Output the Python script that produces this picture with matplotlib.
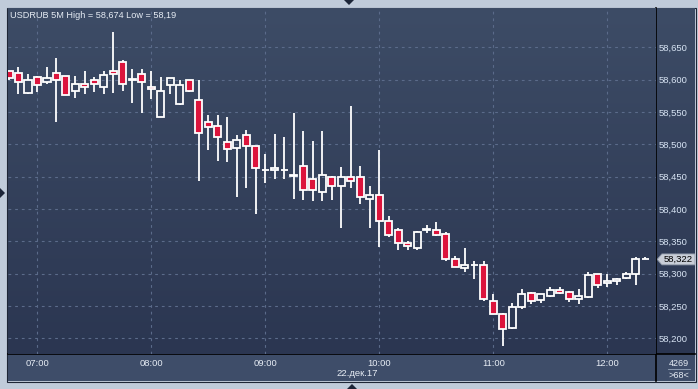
import numpy as np
import pandas as pd
import matplotlib
matplotlib.use("Agg")
import matplotlib.pyplot as plt
from matplotlib.patches import Polygon, Rectangle
from matplotlib.lines import Line2D

# USDRUB 5-minute candles, 22.12.2017, 06:45 .. 12:20
opens = [58.613, 58.610, 58.579, 58.604, 58.596, 58.610, 58.605, 58.582, 58.593, 58.600,
         58.589, 58.613, 58.628, 58.600, 58.608, 58.588, 58.542, 58.591, 58.562, 58.599,
         58.568, 58.534, 58.528, 58.504, 58.494, 58.514, 58.497, 58.460, 58.460, 58.460,
         58.451, 58.466, 58.447, 58.427, 58.450, 58.435, 58.450, 58.449, 58.416, 58.421,
         58.382, 58.367, 58.347, 58.340, 58.367, 58.367, 58.361, 58.322, 58.309, 58.313,
         58.314, 58.258, 58.237, 58.216, 58.248, 58.270, 58.259, 58.265, 58.275, 58.271,
         58.261, 58.264, 58.299, 58.285, 58.288, 58.294, 58.299, 58.322]
highs = [58.614, 58.620, 58.609, 58.606, 58.620, 58.633, 58.606, 58.606, 58.613, 58.604,
         58.613, 58.674, 58.631, 58.616, 58.616, 58.613, 58.604, 58.602, 58.599, 58.600,
         58.599, 58.546, 58.546, 58.543, 58.514, 58.522, 58.498, 58.485, 58.516, 58.511,
         58.548, 58.520, 58.505, 58.520, 58.451, 58.465, 58.559, 58.466, 58.435, 58.491,
         58.389, 58.370, 58.351, 58.366, 58.375, 58.380, 58.365, 58.328, 58.339, 58.319,
         58.319, 58.268, 58.239, 58.254, 58.276, 58.272, 58.269, 58.279, 58.279, 58.273,
         58.276, 58.302, 58.300, 58.299, 58.294, 58.302, 58.325, 58.325]
lows = [58.600, 58.578, 58.578, 58.581, 58.594, 58.534, 58.576, 58.572, 58.578, 58.581,
        58.578, 58.579, 58.583, 58.564, 58.549, 58.570, 58.542, 58.578, 58.561, 58.581,
        58.443, 58.491, 58.474, 58.473, 58.419, 58.433, 58.392, 58.440, 58.447, 58.447,
        58.416, 58.414, 58.413, 58.413, 58.414, 58.371, 58.433, 58.408, 58.371, 58.341,
        58.357, 58.337, 58.337, 58.337, 58.363, 58.358, 58.320, 58.310, 58.303, 58.292,
        58.258, 58.237, 58.188, 58.214, 58.245, 58.253, 58.254, 58.264, 58.269, 58.256,
        58.253, 58.263, 58.278, 58.280, 58.282, 58.292, 58.283, 58.322]
closes = [58.602, 58.596, 58.599, 58.591, 58.602, 58.600, 58.577, 58.594, 58.588, 58.594,
          58.607, 58.608, 58.594, 58.601, 58.596, 58.585, 58.582, 58.602, 58.591, 58.582,
          58.518, 58.526, 58.511, 58.492, 58.506, 58.497, 58.463, 58.461, 58.464, 58.460,
          58.452, 58.430, 58.430, 58.452, 58.436, 58.449, 58.444, 58.418, 58.422, 58.381,
          58.359, 58.348, 58.342, 58.365, 58.369, 58.359, 58.322, 58.311, 58.313, 58.313,
          58.260, 58.238, 58.215, 58.248, 58.268, 58.258, 58.268, 58.275, 58.270, 58.261,
          58.266, 58.298, 58.282, 58.288, 58.292, 58.299, 58.322, 58.322]

times = pd.date_range("2017-12-22 06:45", periods=len(opens), freq="5min")
price_ticks = [58.20, 58.25, 58.30, 58.35, 58.40, 58.45, 58.50, 58.55, 58.60, 58.65]
title = "USDRUB 5M High = 58,674 Low = 58,19"
date_label = "22.дек.17"

W, H = 698, 389
FRAME = "#c0cbda"
BG_TOP, BG_BOT = "#3d4c66", "#2b3651"
TXT = "#e6ecf4"
RED = "#dc143c"
plt.rcParams["font.family"] = ["Liberation Sans", "DejaVu Sans"]


def fbox(x0, y0, x1, y1):
    # pixel box (top-left origin) -> figure fraction rect
    return [x0 / W, 1 - y1 / H, (x1 - x0) / W, (y1 - y0) / H]


def gradient(ax, top, bot):
    c0 = np.array(matplotlib.colors.to_rgb(top))
    c1 = np.array(matplotlib.colors.to_rgb(bot))
    t = np.linspace(0, 1, 256)[:, None]
    img = (c0 * (1 - t) + c1 * t)[:, None, :]
    ax.imshow(img, extent=[0, 1, 0, 1], transform=ax.transAxes,
              aspect="auto", zorder=0, interpolation="bilinear")


fig = plt.figure(figsize=(W / 100, H / 100), dpi=100, facecolor=FRAME)

x = np.arange(len(opens))
o = np.array(opens); c = np.array(closes); hi = np.array(highs); lo = np.array(lows)
ymin, ymax = 58.1757, 58.7108
xmin, xmax = -0.084, 68.13

# right price panel
axr = fig.add_axes(fbox(656, 8, 695, 354))
axr.set_zorder(1)
gradient(axr, BG_TOP, BG_BOT)
axr.set_xlim(0, 1); axr.set_ylim(ymin, ymax)
axr.axis("off")

# bottom time panel
axb = fig.add_axes(fbox(8, 354, 695, 381))
axb.set_zorder(1)
axb.set_facecolor("#3e4d69")
axb.set_xticks([]); axb.set_yticks([])
for s in axb.spines.values():
    s.set_visible(False)

# main chart
ax = fig.add_axes(fbox(8, 8, 656, 354))
ax.set_zorder(2)
gradient(ax, BG_TOP, BG_BOT)
ax.set_xlim(xmin, xmax)
ax.set_ylim(ymin, ymax)
for s in ax.spines.values():
    s.set_visible(False)

hour_idx = [i for i, t in enumerate(times) if t.minute == 0]
for yv in price_ticks:
    ax.axhline(yv, color="#5b6b8a", lw=0.8, ls=(0, (2.5, 3.5)), zorder=1)
for xi in hour_idx:
    ax.axvline(xi, color="#5b6b8a", lw=0.8, ls=(0, (2.5, 3.5)), zorder=1)

body_lo = np.minimum(o, c)
body_hi = np.maximum(o, c)
ax.vlines(x, body_hi, hi, color="white", lw=1.3, zorder=3)
ax.vlines(x, lo, body_lo, color="white", lw=1.3, zorder=3)
bear = c < o
ax.bar(x[bear], (body_hi - body_lo)[bear], bottom=body_lo[bear], width=0.78,
       color=RED, edgecolor="white", linewidth=1.3, zorder=4)
ax.bar(x[~bear], (body_hi - body_lo)[~bear], bottom=body_lo[~bear], width=0.78,
       color="none", edgecolor="white", linewidth=1.3, zorder=4)

ax.set_yticks(price_ticks)
ax.set_yticklabels([f"{v:.3f}".replace(".", ",") for v in price_ticks])
ax.set_xticks(hour_idx)
ax.set_xticklabels([times[i].strftime("%H:%M") for i in hour_idx])
ax.tick_params(axis="y", left=False, right=True, labelleft=False, labelright=True,
               length=0, pad=2, labelsize=6.8, labelcolor="#d8e4f4")
ax.tick_params(axis="x", length=0, pad=3.5, labelsize=6.8, labelcolor=TXT)

ax.text(0.003, 0.978, title, transform=ax.transAxes, ha="left", va="center",
        fontsize=6.6, color=TXT, zorder=6)

# last price tag
last = closes[-1]
hh = 0.0085
tag = Polygon([(0.03, last), (0.15, last + hh), (1.0, last + hh), (1.0, last - hh),
               (0.15, last - hh)], closed=True, facecolor="#c9ced8",
              edgecolor="#8a93a3", lw=0.6, zorder=5)
axr.add_patch(tag)
axr.text(0.2, last, f"{last:.3f}".replace(".", ","), ha="left", va="center",
         fontsize=6.8, color="black", zorder=6)

# bottom panel extras
fig.text(357 / W, 1 - 373 / H, date_label, ha="center", va="center", fontsize=6.8, color=TXT)
fig.text(679 / W, 1 - 363 / H, "4269", ha="center", va="center", fontsize=6.5, color=TXT)
fig.text(679 / W, 1 - 375 / H, ">68<", ha="center", va="center", fontsize=6.5, color=TXT)
fig.add_artist(Line2D([668 / W, 690 / W], [1 - 369 / H] * 2, color="#9aa8bc", lw=0.6))
fig.add_artist(Rectangle((645 / W, 1 - 381 / H), 10 / W, 26 / H,
                         facecolor="#28324a", edgecolor="none"))

# separators and frame
fig.add_artist(Line2D([656 / W] * 2, [1 - 8 / H, 1 - 381 / H], color="black", lw=1.2))
fig.add_artist(Line2D([8 / W, 695 / W], [1 - 354 / H] * 2, color="black", lw=1.2))
fig.add_artist(Rectangle((7.5 / W, 1 - 381.5 / H), 688 / W, 374 / H, fill=False,
                         edgecolor="#1e2636", lw=0.8))

# little navigation arrows on the frame
def px(pts):
    return [(a / W, 1 - b / H) for a, b in pts]


for pts in ([(344, 0), (354, 0), (349, 5)],
            [(0, 188), (0, 198), (5, 193)],
            [(347, 389), (357, 389), (352, 384)]):
    fig.add_artist(Polygon(px(pts), closed=True, facecolor="#1c2538", edgecolor="none"))

fig.savefig("out.png", dpi=100, facecolor=FRAME)
